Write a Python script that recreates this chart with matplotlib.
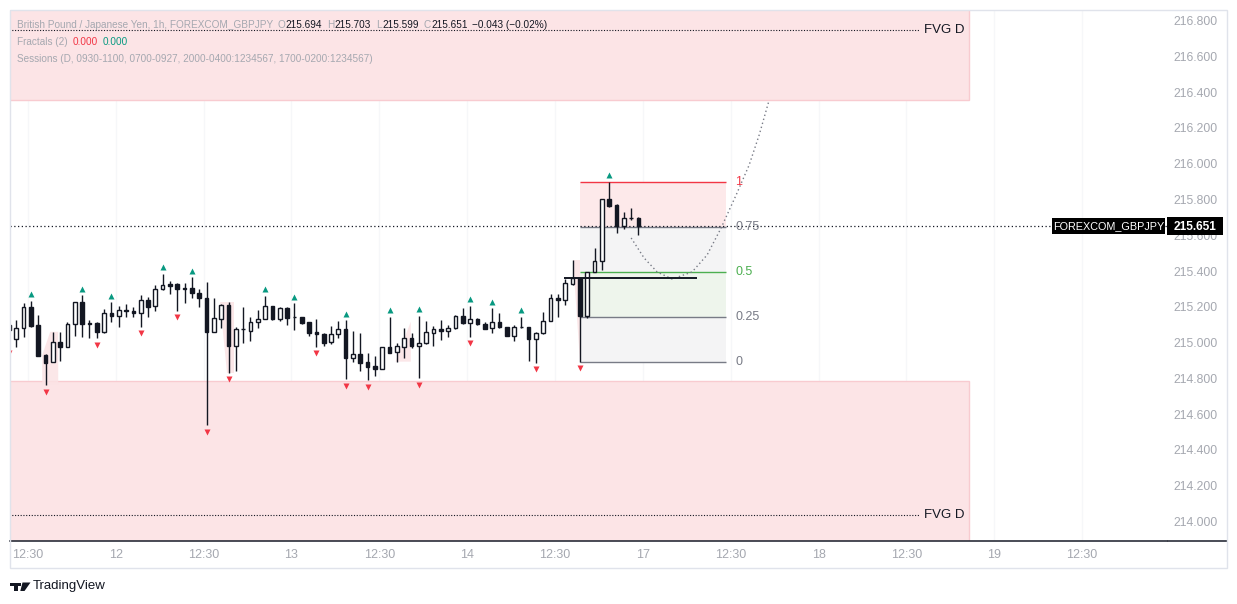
import matplotlib
matplotlib.use("Agg")
import matplotlib.pyplot as plt
from matplotlib.patches import Rectangle, Polygon
from matplotlib.lines import Line2D
import numpy as np

W, H = 1237, 604
FONT = ['Liberation Sans', 'DejaVu Sans']
plt.rcParams['font.family'] = FONT

# ---------------- data (hourly GBPJPY candles) ----------------
opens = [215.100, 215.018, 215.080, 215.197, 215.098, 214.931, 214.890, 215.001, 214.977, 215.102,
         215.225, 215.108, 215.108, 215.057, 215.164, 215.151, 215.180, 215.177, 215.164, 215.236,
         215.205, 215.298, 215.328, 215.326, 215.303, 215.303, 215.279, 215.248, 215.061, 215.132,
         215.210, 214.983, 215.076, 215.067, 215.113, 215.130, 215.205, 215.130, 215.192, 215.145,
         215.145, 215.113, 215.061, 215.046, 215.001, 215.046, 215.074, 214.916, 214.934, 214.890,
         214.869, 214.854, 214.974, 214.946, 214.977, 215.024, 214.983, 214.996, 215.056, 215.074,
         215.067, 215.080, 215.149, 215.108, 215.130, 215.102, 215.080, 215.113, 215.085, 215.039,
         215.085, 215.085, 215.018, 215.052, 215.123, 215.248, 215.238, 215.328, 215.359, 215.149,
         215.397, 215.458, 215.803, 215.769, 215.652, 215.695, 215.694]
highs = [215.136, 215.126, 215.220, 215.233, 215.154, 214.934, 215.057, 215.057, 215.117, 215.225,
         215.266, 215.126, 215.113, 215.186, 215.225, 215.205, 215.214, 215.197, 215.266, 215.253,
         215.322, 215.384, 215.344, 215.331, 215.331, 215.365, 215.300, 215.341, 215.248, 215.214,
         215.225, 215.089, 215.201, 215.145, 215.182, 215.261, 215.205, 215.201, 215.201, 215.220,
         215.145, 215.113, 215.130, 215.052, 215.093, 215.121, 215.126, 215.065, 215.052, 214.940,
         214.925, 214.974, 215.145, 214.996, 215.080, 215.052, 215.151, 215.121, 215.093, 215.126,
         215.098, 215.154, 215.192, 215.205, 215.139, 215.113, 215.192, 215.167, 215.089, 215.098,
         215.145, 215.089, 215.061, 215.173, 215.270, 215.270, 215.356, 215.462, 215.359, 215.397,
         215.527, 215.803, 215.900, 215.773, 215.732, 215.751, 215.703]
lows = [214.977, 214.977, 215.033, 215.085, 214.927, 214.763, 214.890, 214.899, 214.974, 215.039,
        215.033, 215.028, 215.024, 215.052, 215.117, 215.089, 215.145, 215.145, 215.089, 215.145,
        215.179, 215.294, 215.270, 215.179, 215.220, 215.251, 215.201, 214.539, 215.061, 215.080,
        214.832, 214.843, 214.999, 215.009, 215.080, 215.130, 215.126, 215.123, 215.098, 215.071,
        215.104, 215.039, 214.977, 214.983, 214.992, 215.028, 214.796, 214.893, 214.841, 214.791,
        214.813, 214.854, 214.940, 214.893, 214.912, 214.968, 214.800, 214.992, 214.981, 215.015,
        215.033, 215.076, 215.104, 215.033, 215.098, 215.076, 215.052, 215.080, 215.039, 215.009,
        215.080, 214.899, 214.888, 215.048, 215.121, 215.145, 215.210, 215.322, 214.893, 215.136,
        215.393, 215.406, 215.760, 215.611, 215.635, 215.686, 215.599]
closes = [215.070, 215.080, 215.197, 215.095, 214.927, 214.888, 215.001, 214.977, 215.104, 215.225,
          215.102, 215.106, 215.057, 215.164, 215.151, 215.180, 215.178, 215.164, 215.236, 215.201,
          215.298, 215.322, 215.318, 215.298, 215.298, 215.279, 215.248, 215.061, 215.136, 215.210,
          214.983, 215.076, 215.074, 215.113, 215.130, 215.205, 215.130, 215.192, 215.139, 215.143,
          215.111, 215.056, 215.046, 214.999, 215.046, 215.074, 214.916, 214.934, 214.888, 214.865,
          214.854, 214.974, 214.944, 214.981, 215.024, 214.983, 214.996, 215.057, 215.074, 215.067,
          215.080, 215.149, 215.108, 215.130, 215.102, 215.076, 215.113, 215.085, 215.039, 215.085,
          215.087, 215.018, 215.052, 215.123, 215.248, 215.238, 215.331, 215.359, 215.149, 215.397,
          215.458, 215.803, 215.766, 215.652, 215.695, 215.694, 215.651]

fractal_up = [4, 11, 15, 22, 26, 36, 40, 47, 53, 57, 64, 67, 71, 83]      # 1-based candle numbers
fractal_down = [1, 6, 13, 19, 24, 28, 31, 43, 47, 50, 57, 64, 73, 79]

price_ticks = [214.0, 214.2, 214.4, 214.6, 214.8, 215.0, 215.2, 215.4, 215.6, 215.8, 216.0, 216.2, 216.4, 216.6, 216.8]
time_tick_labels = ["12:30", "12", "12:30", "13", "12:30", "14", "12:30", "17", "12:30", "18", "12:30", "19", "12:30"]

fvg_top = (216.356, 217.2)
fvg_top_mid = 216.748
fvg_bot = (213.5, 214.785)
fvg_bot_mid = 214.036

fib_levels = [0, 0.25, 0.5, 0.75, 1]
key_level = 215.36

# session shading shapes (bar index, price)
sessions = [
    [(4.55, 214.930), (5.64, 215.060), (6.74, 215.060), (6.74, 214.763), (4.55, 214.763)],
    [(28.9, 215.225), (30.7, 215.225), (30.7, 214.832), (29.8, 214.832)],
    [(52.8, 214.893), (54.9, 215.117), (54.9, 214.893)],
    [(77.0, 215.460), (79.0, 215.460), (79.0, 214.893), (78.0, 214.893)],
]

# projected path drawing (bar index, price)
path_x = [85.0, 86.77, 88.55, 90.60, 93.33, 95.38, 97.29, 99.34, 101.12, 102.49, 103.85]
path_y = [215.585, 215.473, 215.395, 215.355, 215.395, 215.490, 215.641, 215.825, 215.993, 216.161, 216.356]

# ---------------- figure ----------------
fig = plt.figure(figsize=(W / 100, H / 100), dpi=100)
fig.patch.set_facecolor('white')

def fx(x):
    return x / W

def fy(y):
    return 1 - y / H

ax = fig.add_axes([fx(10), fy(541), fx(1167) - fx(10), fy(10) - fy(541)])
ax.set_facecolor('white')
ax.set_xlim(0.15, 158.2)
ax.set_ylim(213.890, 216.860)

for s in ['top', 'left', 'right']:
    ax.spines[s].set_visible(False)
ax.spines['bottom'].set_color('#2a2e39')
ax.spines['bottom'].set_linewidth(1.2)

xt = [2.6 + 12 * k for k in range(len(time_tick_labels))]
for x in xt:
    ax.axvline(x, color='#f6f7f9', lw=1, zorder=0)

# FVG zones
fvg_right = 131.2
ax.add_patch(Rectangle((0, fvg_top[0]), fvg_right, fvg_top[1] - fvg_top[0],
                       fc='#fce4e6', ec='#f8cbd0', lw=1, zorder=0.5))
ax.add_patch(Rectangle((0, fvg_bot[0]), fvg_right, fvg_bot[1] - fvg_bot[0],
                       fc='#fce4e6', ec='#f8cbd0', lw=1, zorder=0.5))
for yv in (fvg_top_mid, fvg_bot_mid):
    ax.hlines(yv, 0, 124.3, colors='#131722', linestyles=(0, (1, 1.5)), lw=0.8, zorder=1)
    ax.text(125.0, yv, "FVG D", ha='left', va='center', fontsize=9.5, color='#131722', zorder=6)

# sessions
for poly in sessions:
    ax.add_patch(Polygon(poly, closed=True, fc='#fbe3e5', ec='none', alpha=0.85, zorder=1))

# fib retracement
fib_low = lows[78]
fib_high = highs[82]
fib_prices = [fib_low + (fib_high - fib_low) * lv for lv in fib_levels]
fx0, fx1 = 78, 98
fill_cols = ['#f4f4f5', '#eef5ec', '#f4f4f5', '#fde9ea']
line_cols = ['#787b86', '#787b86', '#4caf50', '#787b86', '#f23645']
lab_txt = ['0', '0.25', '0.5', '0.75', '1']
for k in range(4):
    ax.add_patch(Rectangle((fx0, fib_prices[k]), fx1 - fx0, fib_prices[k + 1] - fib_prices[k],
                           fc=fill_cols[k], ec='none', zorder=1))
for k in range(5):
    ax.hlines(fib_prices[k], fx0, fx1, colors=line_cols[k], lw=1, zorder=2)
    ax.text(99.2, fib_prices[k], lab_txt[k], ha='left', va='center', fontsize=9,
            color=line_cols[k], zorder=6)

# current price line
ax.axhline(closes[-1], color='#131722', ls=(0, (1, 2)), lw=0.9, zorder=2)

# key level
ax.hlines(key_level, 75.8, 94.0, colors='#131722', lw=1.4, zorder=5)

# projected path
ax.plot(path_x, path_y, color='#787b86', ls=(0, (1, 2)), lw=1, zorder=2)

# candles
for i, (o, h, l, c) in enumerate(zip(opens, highs, lows, closes)):
    ax.vlines(i, l, h, colors='#131722', lw=1, zorder=3)
    bottom = min(o, c)
    height = max(abs(c - o), 0.0015)
    face = 'white' if c >= o else '#131722'
    ax.add_patch(Rectangle((i - 0.25, bottom), 0.5, height, fc=face, ec='#131722', lw=1, zorder=4))

# fractals
ux = [k - 1 for k in fractal_up]
ax.plot(ux, [highs[k] + 0.036 for k in ux], ls='none', marker='^', ms=4.8, color='#089981', mec='none', zorder=5)
dx = [k - 1 for k in fractal_down]
ax.plot(dx, [lows[k] - 0.038 for k in dx], ls='none', marker='v', ms=4.8, color='#f23645', mec='none', zorder=5)

# axes ticks
ax.yaxis.tick_right()
ax.set_yticks(price_ticks)
ax.set_yticklabels([f"{p:.3f}" for p in price_ticks])
ax.tick_params(axis='y', length=0, pad=4.5, labelsize=8.8, labelcolor='#a5a8b0')
ax.set_xticks(xt)
ax.set_xticklabels(time_tick_labels)
ax.tick_params(axis='x', length=0, pad=6, labelsize=9, labelcolor='#a5a8b0')

# price axis bottom line extension and outer frame
fig.add_artist(Line2D([fx(1168), fx(1227)], [fy(541), fy(541)], color='#2a2e39', lw=1.2))
fig.add_artist(Rectangle((fx(10), fy(568)), fx(1227) - fx(10), fy(10) - fy(568),
                         transform=fig.transFigure, fill=False, ec='#e0e3eb', lw=1, zorder=10))

# price labels
fig.add_artist(Rectangle((fx(1052), fy(234)), fx(1165) - fx(1052), fy(218) - fy(234),
                         transform=fig.transFigure, fc='#000000', ec='none', zorder=19))
fig.add_artist(Rectangle((fx(1167), fy(235)), fx(1223) - fx(1167), fy(217) - fy(235),
                         transform=fig.transFigure, fc='#000000', ec='none', zorder=19))
fig.text(fx(1108.5), fy(226), "FOREXCOM_GBPJPY", ha='center', va='center', fontsize=7.8, color='white', zorder=20)
fig.text(fx(1195), fy(226.5), f"{closes[-1]:.3f}", ha='center', va='center', fontsize=8.6, color='white',
         fontweight='bold', zorder=20)

# legend lines (laid out piece after piece)
gray = '#a5a8b0'
dark = '#131722'
chg = closes[-1] - closes[-2]
pct = chg / closes[-2] * 100
chg_txt = f"{chg:.3f} ({pct:.2f}%)".replace('-', '\u2212')
LS = 7.2
renderer = fig.canvas.get_renderer()

def text_row(pieces, x0, yp):
    x = x0
    for s, col, gap in pieces:
        t = fig.text(fx(x), fy(yp), s, ha='left', va='center', fontsize=LS, color=col, zorder=20)
        bb = t.get_window_extent(renderer=renderer)
        x = bb.x1 + gap

text_row([("British Pound / Japanese Yen, 1h, FOREXCOM_GBPJPY", gray, 4),
          ("O", gray, 0.5), (f"{opens[-1]:.3f}", dark, 5),
          ("H", gray, 0.5), (f"{highs[-1]:.3f}", dark, 5),
          ("L", gray, 0.5), (f"{lows[-1]:.3f}", dark, 5),
          ("C", gray, 0.5), (f"{closes[-1]:.3f}", dark, 4),
          (chg_txt, dark, 0)], 17, 25)
text_row([("Fractals (2)", gray, 5), ("0.000", '#f23645', 5), ("0.000", '#089981', 0)], 17, 42)
text_row([("Sessions (D, 0930-1100, 0700-0927, 2000-0400:1234567, 1700-0200:1234567)", gray, 0)], 17, 59)

# TradingView logo
fig.add_artist(Rectangle((fx(10), fy(585.5)), fx(17.5) - fx(10), fy(582.5) - fy(585.5), transform=fig.transFigure,
                         fc=dark, ec='none'))
fig.add_artist(Rectangle((fx(13.8), fy(591)), fx(17.5) - fx(13.8), fy(585) - fy(591), transform=fig.transFigure,
                         fc=dark, ec='none'))
fig.add_artist(Polygon([(fx(22.5), fy(582.5)), (fx(30.5), fy(582.5)), (fx(24.5), fy(591)), (fx(20.3), fy(591))],
                       closed=True, transform=fig.transFigure, fc=dark, ec='none'))
fig.add_artist(Polygon([(fx(18.4), fy(582.5)), (fx(21.2), fy(582.5)), (fx(21.2), fy(585.5)), (fx(18.4), fy(585.5))],
                       closed=True, transform=fig.transFigure, fc=dark, ec='none'))
fig.text(fx(33), fy(586.5), "TradingView", ha='left', va='center', fontsize=9.5, color=dark)

fig.savefig("out.png", dpi=100, facecolor='white')
